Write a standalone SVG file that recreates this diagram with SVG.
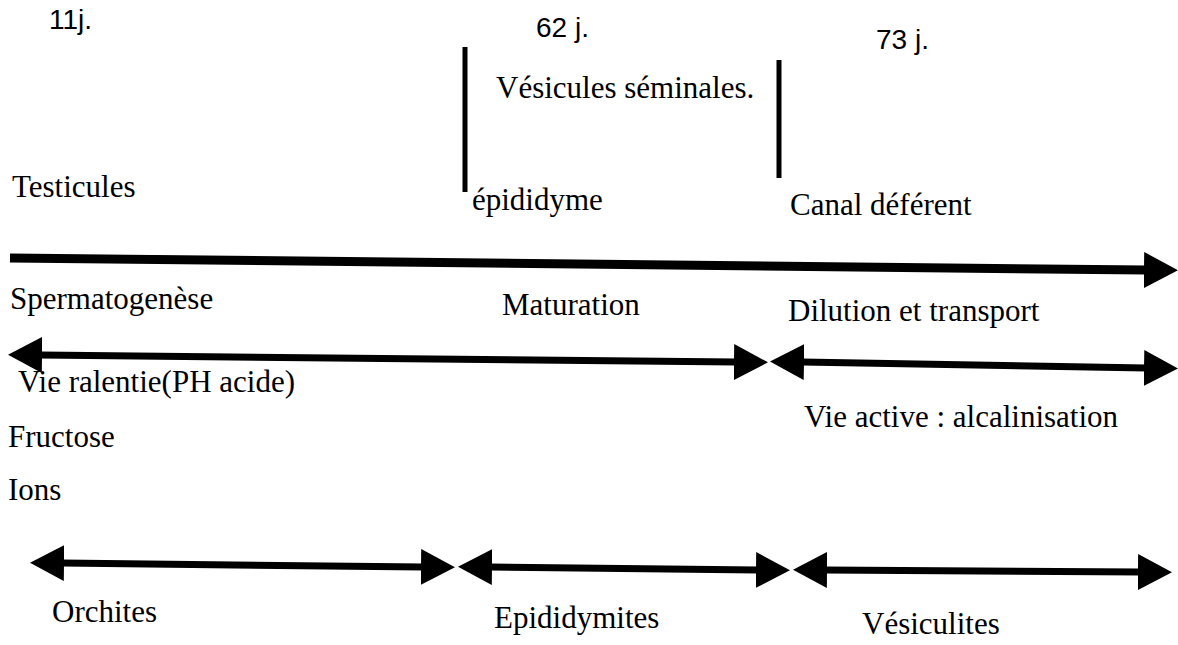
<svg xmlns="http://www.w3.org/2000/svg" width="1178" height="645" viewBox="0 0 1178 645">
<style>
.t{font-family:"Liberation Serif","Times New Roman",serif;font-size:31px;fill:#000}
.n{font-family:"Liberation Sans",Arial,sans-serif;font-size:28px;fill:#000}
.ln{stroke:#000;stroke-width:7;fill:none}
.ln.thick{stroke-width:9}
.bar{stroke:#000;stroke-width:5}
</style>
<defs>
<marker id="ah" viewBox="0 0 34 36" refX="2" refY="18" markerWidth="34" markerHeight="36" markerUnits="userSpaceOnUse" orient="auto-start-reverse">
<path d="M0,0 L34,18 L0,36 Z" fill="#000"/>
</marker>
</defs>
<rect width="1178" height="645" fill="#fff"/>
<g id="labels-days">
<text class="n" x="49" y="29">11j.</text>
<text class="n" x="536" y="37">62 j.</text>
<text class="n" x="876" y="49">73 j.</text>
</g>
<g id="separators">
<line class="bar" x1="465" y1="47" x2="465" y2="192"/>
<line class="bar" x1="779" y1="60" x2="779" y2="178"/>
</g>
<g id="node-vesicules"><text class="t" x="496" y="98">Vésicules séminales.</text></g>
<g id="node-testicules"><text class="t" x="12" y="197">Testicules</text></g>
<g id="node-epididyme"><text class="t" x="472" y="210">épididyme</text></g>
<g id="node-canal"><text class="t" x="790" y="215">Canal déférent</text></g>
<g id="row2-labels">
<text class="t" x="10" y="309">Spermatogenèse</text>
<text class="t" x="502" y="315">Maturation</text>
<text class="t" x="788" y="321">Dilution et transport</text>
</g>
<g id="row3-labels">
<text class="t" x="18" y="392">Vie ralentie(PH acide)</text>
<text class="t" x="804" y="427">Vie active : alcalinisation</text>
<text class="t" x="8" y="447">Fructose</text>
<text class="t" x="8" y="500">Ions</text>
</g>
<g id="row4-labels">
<text class="t" x="52" y="622">Orchites</text>
<text class="t" x="494" y="628">Epididymites</text>
<text class="t" x="862" y="634">Vésiculites</text>
</g>
<g id="connectors">
<line class="ln thick" x1="10" y1="258" x2="1146" y2="270" marker-end="url(#ah)"/>
<line class="ln" x1="40" y1="355" x2="736" y2="362" marker-start="url(#ah)" marker-end="url(#ah)"/>
<line class="ln" x1="802" y1="362" x2="1146" y2="368" marker-start="url(#ah)" marker-end="url(#ah)"/>
<line class="ln" x1="62" y1="563" x2="423" y2="567" marker-start="url(#ah)" marker-end="url(#ah)"/>
<line class="ln" x1="490" y1="567" x2="758" y2="570" marker-start="url(#ah)" marker-end="url(#ah)"/>
<line class="ln" x1="825" y1="570" x2="1140" y2="572" marker-start="url(#ah)" marker-end="url(#ah)"/>
</g>
</svg>
